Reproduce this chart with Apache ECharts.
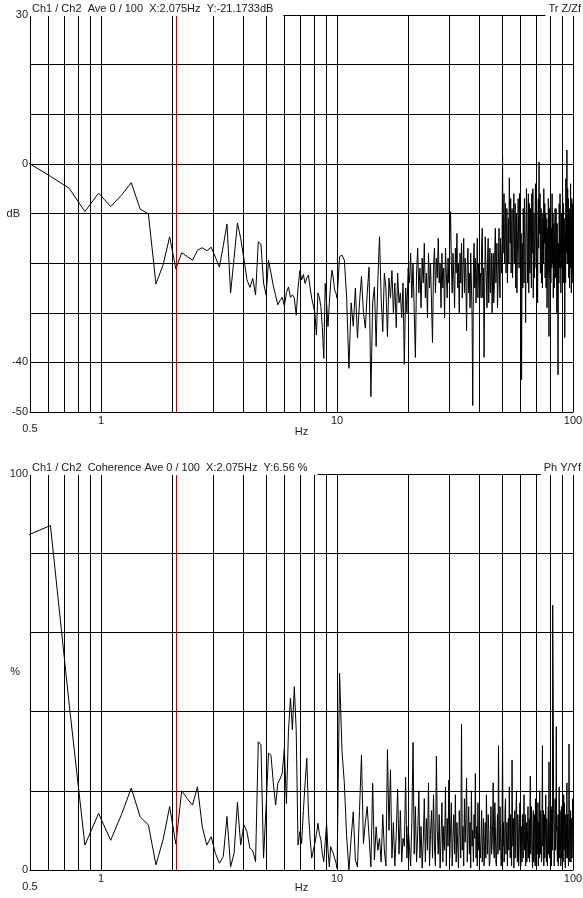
<!DOCTYPE html>
<html>
<head>
<meta charset="utf-8">
<script src="https://cdn.jsdelivr.net/npm/echarts@6/dist/echarts.min.js"></script>
<style>
  html, body { margin: 0; padding: 0; background: #fff; }
  #chart { width: 583px; height: 898px; }
</style>
</head>
<body>
<div id="chart"></div>
<script>
// FFT bin spacing (250 Hz / 2048), cursor sits on bin 17 = 2.075 Hz
const DF = 250 / 2048;
const CURSOR_HZ = 17 * DF;

// vertical grid lines (Hz)
const gridFreqs = [0.6, 0.7, 0.8, 0.9, 1, 2, 3, 4, 5, 6, 7, 8, 9, 10, 20, 30, 40, 50, 60, 70, 80, 90, 100];

// bins 4..82, every bin
const LOW_K0 = 4, LOW_STEP = 1;
const lowTf = [0.3, -2.5, -4.9, -9.6, -5.9, -8.6, -6.3, -3.8, -9.1, -10.1,
  -24.2, -20.4, -14.7, -21.17, -17.9, -18.7, -19.4, -17.4, -16.9, -17.5,
  -16.8, -18.8, -20.8, -16.5, -12.1, -26.0, -19, -11.9, -15, -19.0,
  -23.3, -24.9, -23.1, -26.4, -15.7, -16.2, -24, -26.4, -19.4, -22,
  -24.6, -26.5, -28.4, -27.5, -26.9, -28.6, -26, -24.8, -26.9, -26.4,
  -27, -30.5, -25, -21.5, -23.4, -22.3, -24.1, -23, -22.4, -25,
  -27.1, -26.8, -30, -34.5, -26.0, -27, -28.8, -33, -39.2, -24.1,
  -28, -32.8, -28, -24, -21.4, -23, -25.4, -26, -27.1];
const lowCoh = [84.5, 87, 42, 6.3, 14.3, 7.5, 14, 20.7, 13.4, 11.4,
  1.3, 7.6, 16, 6.56, 20, 18, 16.4, 21, 10.9, 6.3,
  8.4, 4.2, 1.7, 3.4, 13.5, 0.8, 4.2, 17.1, 6.3, 11.4,
  9.7, 5.5, 4.9, 2.1, 32.4, 31.6, 3.0, 16, 29.5, 29.0,
  22, 16.4, 21.9, 23, 24.4, 30.7, 16.8, 35, 43.4, 35.4,
  46.3, 35.4, 6.3, 9.7, 6.7, 15, 22, 28.2, 14.7, 8,
  3.0, 5, 6.7, 9, 11.8, 9, 7.6, 4, 2.1, 7,
  11.8, 5, 0.8, 5.9, 5, 4.2, 3, 2, 0.4];

// bins 84..164, every 2nd bin
const MID_K0 = 84, MID_STEP = 2;
const midTf = [-18.7, -18.4, -19.4, -27, -41.2, -28, -32.7, -25, -35.1, -28,
  -22.7, -30, -33.1, -26, -20.8, -46.9, -28, -24.8, -36.8, -23.4,
  -14.7, -27, -33.8, -22, -25, -34.8, -23, -27, -21.5, -30,
  -24, -33, -22, -28, -26, -31, -24, -40.4, -25, -30,
  -21];
const midCoh = [49.7, 30, 21.9, 8.4, 0, 8, 14.7, 2.5, 0.8, 15,
  29, 6.7, 12, 16, 16.4, 0.8, 21.9, 2.5, 10.9, 5,
  8, 2, 14, 5, 1, 30.4, 10, 25.3, 3, 12,
  1, 9, 20.4, 4, 15, 2, 8, 6, 23.4, 3,
  11];

// bins 166..328, every 2nd bin
const HI1_K0 = 166, HI1_STEP = 2;
const hi1Tf = [-24, -18, -27, -20, -30, -39, -22, -17, -26, -21,
  -29, -19, -24, -16, -27, -22, -31, -18, -25, -20,
  -28, -36, -21, -17, -26, -19, -23, -15, -24, -20,
  -29, -18, -25, -21, -31, -17, -22, -27, -19, -24,
  -16, -9.6, -20, -26, -18, -23, -29, -17, -22, -14,
  -25, -20, -30, -18, -24, -16, -27, -21, -15, -26,
  -19, -23, -33.6, -20, -17, -26, -22, -29, -18, -24,
  -31, -48.7, -21, -16, -25, -19, -28, -22, -15, -27,
  -20, -24];
const hi1Coh = [6, 1, 12, 32.2, 4, 16, 2, 9, 20, 3,
  11, 0.5, 7, 18, 2, 13, 5, 22, 1, 9,
  15, 3, 19, 6, 1, 28.8, 10, 4, 14, 0.5,
  8, 17, 2, 11, 5, 21, 1, 13, 6, 22.7,
  3, 10, 17, 1, 8, 14, 4, 19, 2, 12,
  6, 0.5, 15, 9, 3, 36.9, 5, 11, 1, 18,
  7, 13, 23.2, 2, 9, 16, 4, 12, 0.5, 20,
  6, 10, 2, 14, 8, 24.4, 3, 11, 1, 17,
  5, 9];

// bins 332..820, every 2nd bin
const HI2_K0 = 332, HI2_STEP = 2;
const hi2Tf = [-22, -27, -16, -13, -27, -21, -39, -26, -14.7, -20, -24, -29, -19, -15, -28, -22, -17, -26, -23, -18,
  -30, -23, -18, -28, -25, -17, -13, -24, -21, -16, -29, -25, -19, -13, -24, -27, -15, -19, -22, -16,
  1.5, -18, -12, -6, -20, -14, -8, -22, -17, -9, -24, -17, -11, -20, -2.8, -10, -16, -7, -22, -15,
  -9, -23, -19, -12, -6, -20, -14, -8, -25, -18, -10, -26, -18, -13, -7, -16, -21, -6, -13, -19,
  -30, -14, -43.5, -21, -16, -25, -9, -15, -24, -7, -12, -20, -32, -16, -5, -12, -18, -24, -11, -6,
  -26, -14, -8, -22, -15, -9, -20, -25, -6, -18, -13, -5, -27, -19, -10, -23, -17, -11, -4, -15,
  -21, -8, -12, -19, -28, -15, -7, -17, 0.4, -9, -14, -6, -22, -16, -9, -24, -18, -10, -25, -15,
  -11, -20, -5, -12, -16, -8, -23, -17, -10, -25, -19, -11, -29, -20, -13, -22, -7, -14, -34.8, -9,
  -17, -23, -11, -7, -24, -13, -15, -21, -6, -14, -20, -10, -27, -18, -12, -25, -18, -13, -9, -17,
  -23, -9, -14, -20, -30, -12, -19, -26, -42.5, -22, -16, -24, -8, -14, -21, -6, -13, -19, -26, -17,
  -10, -21, -18, -12, -5, -19, -15, -8, -24, -17, -11, -22, -35, -20, -14, -24, -3, -15, -9, -18,
  2.8, -20, -12, -5, -20, -14, -7, -23, -16, -9, -25, -18, -10, -21, -4, -11, -18, -26, -13, -7,
  -22, -15, -8, -24, -17];
const hi2Coh = [3, 9, 15, 2, 7, 13, 1, 6, 12, 3, 19, 8, 4, 14, 10, 1, 2, 10, 16, 4,
  6, 12, 22, 5, 3, 17, 11, 2, 1, 8, 14, 4, 31.4, 11, 5, 16, 9, 1, 2, 13,
  33, 6, 12, 2, 4, 15, 18, 4, 7, 12, 1, 9, 13, 5, 21, 10, 3, 14, 9, 1,
  27.8, 10, 6, 13, 0.5, 9, 15, 3, 8, 16, 20, 7, 2, 14, 11, 1, 5, 12, 17, 6,
  1, 11, 9, 2, 14, 6, 3, 12, 19, 5, 7, 14, 1, 9, 12, 2, 4, 10, 16, 3,
  8, 13, 2, 10, 23.7, 4, 6, 16, 11, 3, 0.5, 9, 15, 2, 5, 14, 9, 1, 18, 7,
  2, 10, 13, 4, 7, 17, 1, 12, 10, 3, 20, 8, 4, 15, 12, 2, 3, 17, 31.4, 6,
  8, 15, 1, 9, 14, 3, 6, 11, 19, 7, 2, 13, 10, 1, 5, 12, 16, 4, 27.3, 9,
  3, 9, 12, 2, 7, 16, 1, 10, 15, 5, 66.9, 52, 40.4, 14, 9, 1, 4, 13, 18, 5,
  6, 17, 36.2, 10, 11, 4, 2, 9, 14, 1, 8, 13, 21, 6, 3, 15, 10, 5, 1, 12,
  16, 3, 6, 14, 12, 5, 2, 11, 19, 7, 5, 17, 9, 2, 0.5, 10, 14, 3, 7, 13,
  22, 7, 3, 14, 11, 4, 1, 12, 31.8, 16, 8, 2, 4, 11, 15, 5, 2, 13, 10, 3,
  6, 12, 18, 8, 3];

// [Hz, value] pairs for one block of bins
const toPairs = (k0, step, vals) => vals.map((v, i) => [(k0 + i * step) * DF, v]);

const tfData = [].concat(
  toPairs(LOW_K0, LOW_STEP, lowTf),
  toPairs(MID_K0, MID_STEP, midTf),
  toPairs(HI1_K0, HI1_STEP, hi1Tf),
  toPairs(HI2_K0, HI2_STEP, hi2Tf)
);
const cohData = [].concat(
  toPairs(LOW_K0, LOW_STEP, lowCoh),
  toPairs(MID_K0, MID_STEP, midCoh),
  toPairs(HI1_K0, HI1_STEP, hi1Coh),
  toPairs(HI2_K0, HI2_STEP, hi2Coh)
);

const FONT = "Liberation Sans";
const TXT = "#1a1a1a";

const chart = echarts.init(document.getElementById("chart"), null, { renderer: "canvas" });

const xAxisCfg = (gridIndex, nameGap) => ({
  type: "log",
  logBase: 10,
  gridIndex: gridIndex,
  min: 0.5,
  max: 100,
  name: "Hz",
  nameLocation: "middle",
  nameGap: nameGap,
  nameMoveOverlap: false,
  nameTextStyle: { fontFamily: FONT, fontSize: 11, color: TXT },
  axisLine: { show: true, onZero: false, lineStyle: { color: "#000", width: 1 } },
  axisTick: { show: false },
  splitLine: { show: false },
  minorTick: { show: false },
  axisLabel: {
    margin: 3,
    fontFamily: FONT,
    fontSize: 11,
    color: TXT,
    formatter: (v) => {
      const s = String(Math.round(v * 10) / 10);
      return s === "0.5" ? "{lo|0.5}" : s;
    },
    rich: { lo: { padding: [8, 0, 0, 0], fontFamily: FONT, fontSize: 11, color: TXT } },
  },
});

// grid lines + cursor, drawn through the x scale (fresh object per series)
const makeMarkLines = () => ({
  silent: true,
  symbol: ["none", "none"],
  label: { show: false },
  animation: false,
  lineStyle: { color: "#000", width: 1, type: "solid" },
  data: gridFreqs.map((f) => ({ xAxis: f })).concat([
    { xAxis: CURSOR_HZ, lineStyle: { color: "#c00000", width: 1, type: "solid" } },
  ]),
});

const topLabels = { 30: "30", 0: "0", "-40": "-40", "-50": "-50" };
const botLabels = { 100: "100", 0: "0" };

const titleStyle = { fontFamily: FONT, fontSize: 11, fontWeight: "normal", color: TXT };

const yAxisCfg = (gridIndex, min, max, interval, name, labels) => ({
  type: "value",
  gridIndex: gridIndex,
  min: min, max: max, interval: interval,
  name: name,
  nameLocation: "middle",
  nameRotate: 0,
  nameGap: 10,
  nameMoveOverlap: false,
  nameTextStyle: { fontFamily: FONT, fontSize: 11, color: TXT },
  axisLine: { show: true, lineStyle: { color: "#000", width: 1 } },
  axisTick: { show: false },
  splitLine: { show: true, lineStyle: { color: "#000", width: 1 } },
  axisLabel: {
    margin: 2,
    fontFamily: FONT, fontSize: 11, color: TXT,
    formatter: (v) => labels[v] || "",
  },
});

const option = {
  animation: false,
  backgroundColor: "#fff",
  title: [
    { text: "Ch1 / Ch2  Ave 0 / 100  X:2.075Hz  Y:-21.1733dB", left: 30, top: 1,
      backgroundColor: "#fff", padding: [2, 10, 2, 2], textStyle: titleStyle },
    { text: "Tr Z/Zf", right: 0, top: 1,
      backgroundColor: "#fff", padding: [2, 2, 2, 3], textStyle: titleStyle },
    { text: "Ch1 / Ch2  Coherence Ave 0 / 100  X:2.075Hz  Y:6.56 %", left: 30, top: 460,
      backgroundColor: "#fff", padding: [2, 10, 2, 2], textStyle: titleStyle },
    { text: "Ph Y/Yf", right: 0, top: 460,
      backgroundColor: "#fff", padding: [2, 2, 2, 3], textStyle: titleStyle },
  ],
  grid: [
    { left: 30, top: 15, width: 543, height: 397, containLabel: false, outerBoundsMode: "none" },
    { left: 30, top: 474, width: 543, height: 396, containLabel: false, outerBoundsMode: "none" },
  ],
  xAxis: [xAxisCfg(0, 14), xAxisCfg(1, 12)],
  yAxis: [
    yAxisCfg(0, -50, 30, 10, "dB", topLabels),
    yAxisCfg(1, 0, 100, 20, "%", botLabels),
  ],
  series: [
    {
      name: "Tr",
      type: "line",
      xAxisIndex: 0,
      yAxisIndex: 0,
      data: tfData,
      showSymbol: false,
      clip: true,
      lineStyle: { color: "#000", width: 1 },
      markLine: makeMarkLines(),
    },
    {
      name: "Coherence",
      type: "line",
      xAxisIndex: 1,
      yAxisIndex: 1,
      data: cohData,
      showSymbol: false,
      clip: true,
      lineStyle: { color: "#000", width: 1 },
      markLine: makeMarkLines(),
    },
  ],
};

chart.setOption(option);
window.addEventListener("resize", () => chart.resize());
</script>
</body>
</html>
